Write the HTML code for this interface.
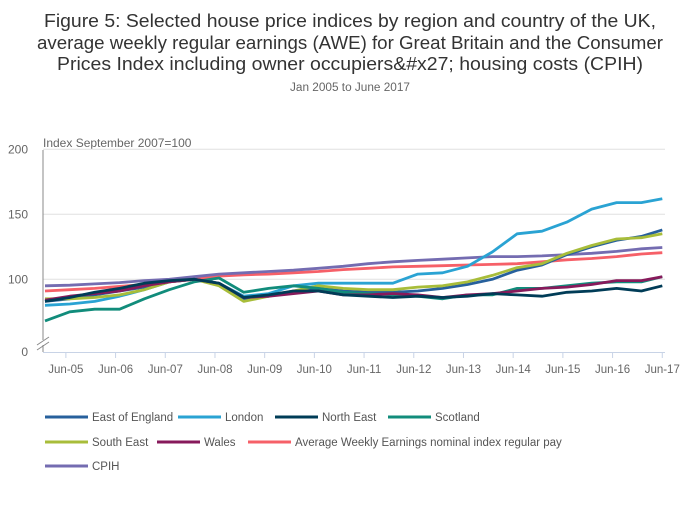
<!DOCTYPE html>
<html><head><meta charset="utf-8"><style>
body{margin:0;background:#fff;}
svg text{font-family:"Liberation Sans",sans-serif;}
</style></head><body>
<svg width="700" height="502" viewBox="0 0 700 502" id="chart">
<text x="350" y="27" text-anchor="middle" font-size="18" fill="#333" textLength="612" lengthAdjust="spacingAndGlyphs">Figure 5: Selected house price indices by region and country of the UK,</text>
<text x="350" y="49" text-anchor="middle" font-size="18" fill="#333" textLength="626" lengthAdjust="spacingAndGlyphs">average weekly regular earnings (AWE) for Great Britain and the Consumer</text>
<text x="350" y="70" text-anchor="middle" font-size="18" fill="#333" textLength="586" lengthAdjust="spacingAndGlyphs">Prices Index including owner occupiers&amp;#x27; housing costs (CPIH)</text>
<text x="350" y="91" text-anchor="middle" font-size="11.5" fill="#666" textLength="120" lengthAdjust="spacingAndGlyphs">Jan 2005 to June 2017</text>
<text x="43" y="147" font-size="12" fill="#666">Index September 2007=100</text>
<g id="grid"></g><g id="series"></g><g id="axes"></g><g id="legend"></g>
</svg>
<script>
const dates=[2005,2005.5,2006,2006.5,2007,2007.5,2008,2008.5,2009,2009.5,2010,2010.5,2011,2011.5,2012,2012.5,2013,2013.5,2014,2014.5,2015,2015.5,2016,2016.5,2017,2017.42];
const eastEngland=[83,85,88,91,94,98,100,96,85,87,91,93,91,90,90,91,93,96,100,107,111,119,125,130,133,138];
const london=[80,81,83,87,92,98,100,97,87,89,95,97,97,97,97,104,105,110,121,135,137,144,154,159,159,162];
const northEast=[83,86,90,93,97,99,100,97,86,88,91,91,88,87,86,87,86,87,89,88,87,90,91,93,91,95];
const scotland=[68,75,77,77,85,92,98,101,90,93,95,93,90,89,88,87,85,88,88,93,93,95,97,98,98,102];
const southEast=[85,85,86,88,92,98,100,95,83,87,91,95,93,92,92,94,95,98,103,109,112,120,126,131,132,135];
const wales=[84,87,89,91,95,98,100,97,86,87,89,91,88,88,89,88,86,88,89,91,93,94,96,99,99,102];
const awe=[91,92,93,94.5,96,98,100.5,102.5,103.5,104,105,106,107.5,108.5,109.5,110,110.5,111,111.5,112,113.5,115,116,117.5,119.5,120.5];
const cpih=[95,95.5,96.5,97.5,99,100,102,104,105,106,107,108.5,110,112,113.5,114.5,115.5,116.5,117.5,117.5,118,119,120,121.5,123.5,124.5];
const yTicks=[0,100,150,200];
const xTickLabels=["Jun-05","Jun-06","Jun-07","Jun-08","Jun-09","Jun-10","Jun-11","Jun-12","Jun-13","Jun-14","Jun-15","Jun-16","Jun-17"];
const xTickYears=[2005.42,2006.42,2007.42,2008.42,2009.42,2010.42,2011.42,2012.42,2013.42,2014.42,2015.42,2016.42,2017.42];
const ns="http://www.w3.org/2000/svg";
function X(t){return 45+(t-2005)*49.7;}
function Y(v){return v===0?352:279.3-(v-100)*1.3;}
function mk(tag,attrs,parent){const e=document.createElementNS(ns,tag);for(const k in attrs)e.setAttribute(k,attrs[k]);parent.appendChild(e);return e;}
const grid=document.getElementById('grid'),axes=document.getElementById('axes'),ser=document.getElementById('series'),leg=document.getElementById('legend');
yTicks.forEach(v=>{
 if(v>0){const g=mk('line',{x1:43,x2:665,y1:Y(v),y2:Y(v),stroke:'#e0e0e0','stroke-width':1},grid);
 
 }
 const t=mk('text',{x:28,y:Y(v)+4,'text-anchor':'end','font-size':12,fill:'#666'},axes);t.textContent=v;
 
 
});
const ax=mk('line',{x1:43,x2:43,y1:150,y2:352,stroke:'#888','stroke-width':1},axes);


const bx=mk('line',{x1:43,x2:665,y1:352.5,y2:352.5,stroke:'#c8d3e6','stroke-width':1},axes);


const brk=mk('path',{d:'M37,345 L49,337 M37,350 L49,342',stroke:'#888','stroke-width':1,fill:'none'},axes);


const brkbg=mk('rect',{x:40,y:340,width:6,height:5,fill:'#fff'},axes);


axes.insertBefore(brkbg,brk);
xTickYears.forEach((t,i)=>{
 const l=mk('line',{x1:X(t),x2:X(t),y1:352,y2:358,stroke:'#c8d3e6'},axes);
 
 
 const tx=mk('text',{x:X(t),y:373,'text-anchor':'middle','font-size':11.5,fill:'#666'},axes);tx.textContent=xTickLabels[i];
 
 
});
const series=[
 ['East of England',eastEngland,'#27609c'],['London',london,'#2aa3d3'],['North East',northEast,'#003c57'],['Scotland',scotland,'#118c7b'],
 ['South East',southEast,'#a8bd3a'],['Wales',wales,'#871a5b'],['Average Weekly Earnings nominal index regular pay',awe,'#f66068'],['CPIH',cpih,'#746cb1']];
const drawOrder=[6,7,1,0,4,3,5,2];
drawOrder.forEach(i=>{
 const s=series[i];
 const d=s[1].map((v,j)=>(j?'L':'M')+X(dates[j]).toFixed(1)+','+Y(v).toFixed(1)).join(' ');
 const p=mk('path',{d:d,stroke:s[2],'stroke-width':2.8,fill:'none','stroke-linejoin':'round'},ser);
 
 
});
const legPos=[[45,417],[178,417],[275,417],[388,417],[45,442],[157,442],[248,442],[45,466]];
series.forEach((s,i)=>{
 const [lx,ly]=legPos[i];
 const g=mk('g',{},leg);
 
 
 mk('line',{x1:lx,x2:lx+43,y1:ly,y2:ly,stroke:s[2],'stroke-width':3},g);
 const t=mk('text',{x:lx+47,y:ly+4,'font-size':11.5,fill:'#555'},g);t.textContent=s[0];
});
</script>
</body></html>
